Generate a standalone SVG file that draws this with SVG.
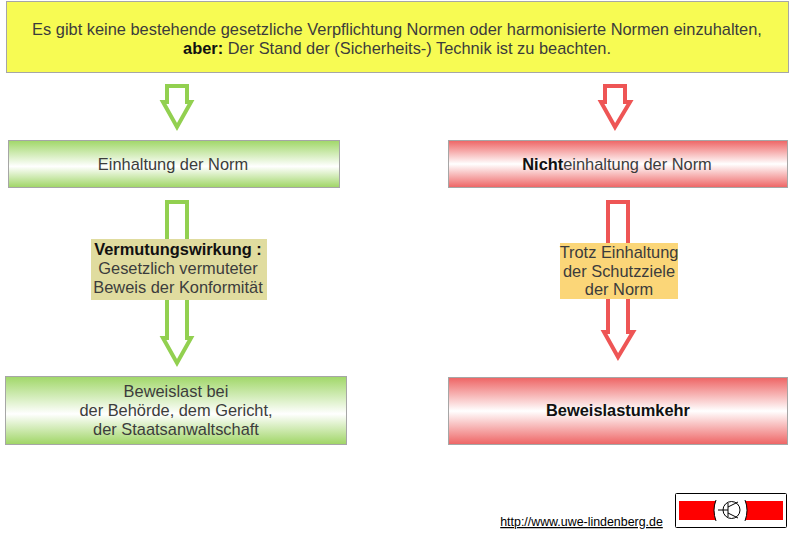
<svg xmlns="http://www.w3.org/2000/svg" width="793" height="534" viewBox="0 0 793 534">
<defs>
<linearGradient id="g" x1="0" y1="0" x2="0" y2="1"><stop offset="0" stop-color="#a0d768"/><stop offset="0.55" stop-color="#ffffff"/><stop offset="1" stop-color="#9fd565"/></linearGradient>
<linearGradient id="r" x1="0" y1="0" x2="0" y2="1"><stop offset="0" stop-color="#ee6464"/><stop offset="0.5" stop-color="#ffffff"/><stop offset="1" stop-color="#ee6464"/></linearGradient>
</defs>
<style>
text{font-family:"Liberation Sans",Arial,sans-serif;font-size:16.4px;fill:#3c3c3c;text-anchor:middle}
.b{font-weight:bold;fill:#111}
.box{stroke:#a6a6a6;stroke-width:1}
.ga{fill:#fff;stroke:#92d050;stroke-width:4}
.ra{fill:#fff;stroke:#ee5555;stroke-width:4}
</style>
<rect width="793" height="534" fill="#fff"/>
<g id="connectors">
<path class="ga" d="M167 86H187V102H191L177 127L163 102H167Z"/>
<path class="ra" d="M605 86H625V102H630L615 127L601 102H605Z"/>
<path class="ga" d="M167 202H187V338H191L177 363L163 338H167Z"/>
<path class="ra" d="M608 202H628V332H633L618 357L604 332H608Z"/>
</g>
<g id="top"><rect class="box" x="6.500" y="1.500" width="782" height="71" fill="#f7fb53"/>
<text x="397" y="35">Es gibt keine bestehende gesetzliche Verpflichtung Normen oder harmonisierte Normen einzuhalten,</text>
<text x="397" y="54"><tspan class="b">aber:</tspan> Der Stand der (Sicherheits-) Technik ist zu beachten.</text></g>
<g id="n1"><rect class="box" x="8.500" y="140.500" width="331" height="47" fill="url(#g)"/><text x="173" y="170">Einhaltung der Norm</text></g>
<g id="n2"><rect class="box" x="448.500" y="140.500" width="339" height="47" fill="url(#r)"/><text x="617" y="170"><tspan class="b">Nicht</tspan>einhaltung der Norm</text></g>
<g id="l1"><rect x="91" y="239" width="176" height="61" fill="#e0dc9f"/>
<text x="178" y="255" class="b">Vermutungswirkung :</text><text x="178" y="274">Gesetzlich vermuteter</text><text x="178" y="293">Beweis der Konformität</text></g>
<g id="l2"><rect x="560" y="243" width="118" height="56" fill="#fbd678"/>
<text x="619" y="258">Trotz Einhaltung</text><text x="619" y="277">der Schutzziele</text><text x="619" y="295">der Norm</text></g>
<g id="n3"><rect class="box" x="5.500" y="376.500" width="341" height="68" fill="url(#g)"/>
<text x="176" y="397">Beweislast bei</text><text x="176" y="416">der Behörde, dem Gericht,</text><text x="176" y="435">der Staatsanwaltschaft</text></g>
<g id="n4"><rect class="box" x="448.500" y="377.500" width="339" height="67" fill="url(#r)"/><text x="618" y="416" class="b">Beweislastumkehr</text></g>
<g id="link"><text x="581.500" y="526" style="font-size:12.400px;fill:#000;text-decoration:underline">http://www.uwe-lindenberg.de</text></g>
<g id="logo"><rect x="675.500" y="493.500" width="111" height="34" fill="#fff" stroke="#000" rx="1"/>
<rect x="679" y="501" width="37" height="19" fill="#f00"/><rect x="745" y="501" width="38" height="19" fill="#f00"/>
<path d="M716 500Q712 510 716 521M745 500Q749 510 745 521" fill="#fff" stroke="#000"/>
<g fill="none" stroke="#000"><circle cx="731.500" cy="510" r="8.500"/><path d="M718 510H728M728 503V517M728 507L738 502M728 513L738 518"/></g></g>
</svg>
